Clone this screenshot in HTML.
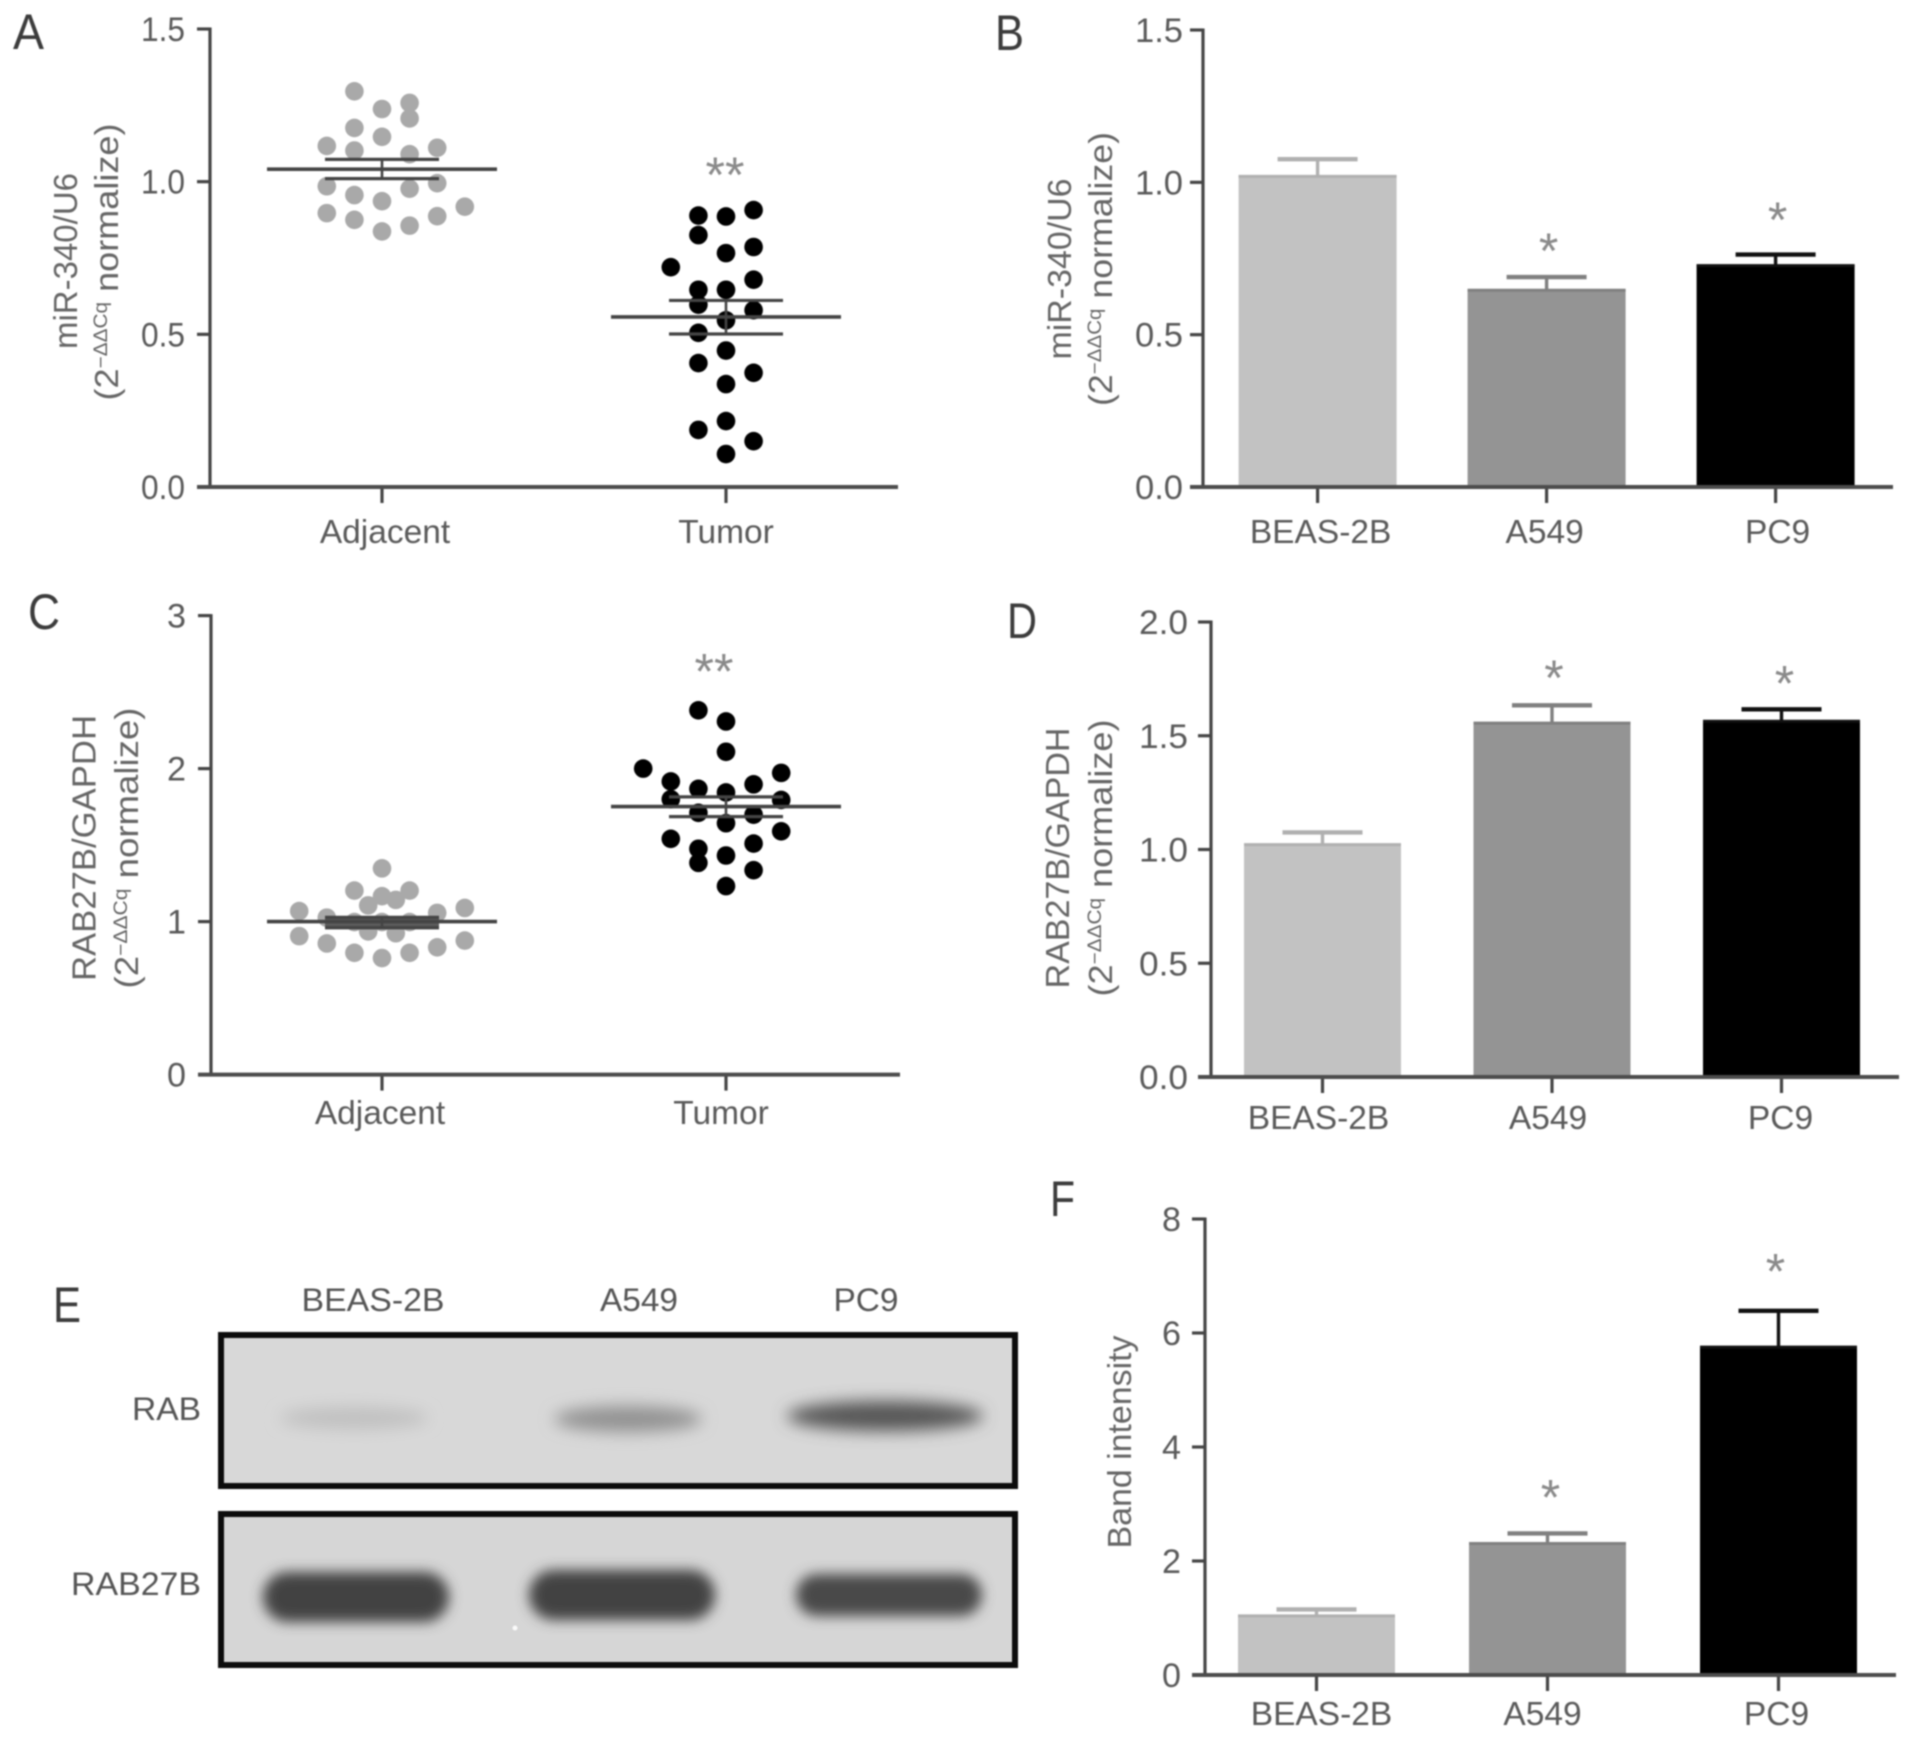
<!DOCTYPE html>
<html lang="en">
<head>
<meta charset="utf-8">
<title>miR-340 and RAB27B expression figure</title>
<style>
  html, body { margin: 0; padding: 0; background: #fff; }
  #figure { display: block; width: 1913px; height: 1739px; filter: blur(0.85px); font-family: "Liberation Sans", sans-serif; }
  .title { font-size: 33px; fill: #666; }
  .title2 { font-size: 33px; fill: #666; }
  .letter { font-size: 50px; fill: #3c3c3c; }
  .blot-text { font-size: 32px; fill: #555; }
</style>
</head>
<body>
<svg id="figure" xmlns="http://www.w3.org/2000/svg" width="1913" height="1739" viewBox="0 0 1913 1739">
  <defs>
    <filter id="blur-soft" x="-30%" y="-80%" width="160%" height="260%"><feGaussianBlur stdDeviation="8"></feGaussianBlur></filter>
    <filter id="blur-firm" x="-20%" y="-50%" width="140%" height="200%"><feGaussianBlur stdDeviation="6.5"></feGaussianBlur></filter>
  </defs>
  <rect x="0" y="0" width="1913" height="1739" fill="#fff"></rect>

  <text class="letter" x="13" y="49" textLength="31" lengthAdjust="spacingAndGlyphs">A</text>
  <text class="letter" x="995" y="50" textLength="29" lengthAdjust="spacingAndGlyphs">B</text>
  <text class="letter" x="28" y="629" textLength="32" lengthAdjust="spacingAndGlyphs">C</text>
  <text class="letter" x="1007" y="638" textLength="30" lengthAdjust="spacingAndGlyphs">D</text>
  <text class="letter" x="53" y="1322" textLength="28" lengthAdjust="spacingAndGlyphs">E</text>
  <text class="letter" x="1050" y="1216" textLength="25" lengthAdjust="spacingAndGlyphs">F</text>

  <text class="title" transform="translate(77,261) rotate(-90)" text-anchor="middle" textLength="176" lengthAdjust="spacingAndGlyphs">miR-340/U6</text>
  <text class="title2" transform="translate(118,262) rotate(-90)" text-anchor="middle" textLength="277" lengthAdjust="spacingAndGlyphs">(2<tspan font-size="19" dy="-11">−ΔΔCq</tspan><tspan dy="11"> normalize)</tspan></text>

  <text class="title" transform="translate(1071,269) rotate(-90)" text-anchor="middle" textLength="181" lengthAdjust="spacingAndGlyphs">miR-340/U6</text>
  <text class="title2" transform="translate(1112,269) rotate(-90)" text-anchor="middle" textLength="274" lengthAdjust="spacingAndGlyphs">(2<tspan font-size="19" dy="-11">−ΔΔCq</tspan><tspan dy="11"> normalize)</tspan></text>

  <text class="title" transform="translate(95.5,848) rotate(-90)" text-anchor="middle" textLength="266" lengthAdjust="spacingAndGlyphs">RAB27B/GAPDH</text>
  <text class="title2" transform="translate(138,848) rotate(-90)" text-anchor="middle" textLength="281" lengthAdjust="spacingAndGlyphs">(2<tspan font-size="19" dy="-11">−ΔΔCq</tspan><tspan dy="11"> normalize)</tspan></text>

  <text class="title" transform="translate(1069,858) rotate(-90)" text-anchor="middle" textLength="261" lengthAdjust="spacingAndGlyphs">RAB27B/GAPDH</text>
  <text class="title2" transform="translate(1112,858) rotate(-90)" text-anchor="middle" textLength="277" lengthAdjust="spacingAndGlyphs">(2<tspan font-size="19" dy="-11">−ΔΔCq</tspan><tspan dy="11"> normalize)</tspan></text>

  <text class="title" transform="translate(1131,1442) rotate(-90)" text-anchor="middle" textLength="213" lengthAdjust="spacingAndGlyphs">Band intensity</text>

  <g>
    <text class="blot-text" x="373" y="1311" text-anchor="middle" textLength="143" lengthAdjust="spacingAndGlyphs">BEAS-2B</text>
    <text class="blot-text" x="639" y="1311" text-anchor="middle" textLength="78" lengthAdjust="spacingAndGlyphs">A549</text>
    <text class="blot-text" x="866" y="1311" text-anchor="middle" textLength="65" lengthAdjust="spacingAndGlyphs">PC9</text>
    <text class="blot-text" x="201" y="1420" text-anchor="end" textLength="69" lengthAdjust="spacingAndGlyphs">RAB</text>
    <text class="blot-text" x="201" y="1595" text-anchor="end" textLength="130" lengthAdjust="spacingAndGlyphs">RAB27B</text>

    <rect x="221" y="1335" width="794" height="151" fill="#d8d8d8" stroke="#0c0c0c" stroke-width="6"></rect>
    <ellipse cx="354" cy="1418" rx="74" ry="11" fill="#c0c0c0" filter="url(#blur-soft)"></ellipse>
    <ellipse cx="628" cy="1419" rx="74" ry="13" fill="#929292" filter="url(#blur-soft)"></ellipse>
    <ellipse cx="885" cy="1416" rx="98" ry="15" fill="#565656" filter="url(#blur-soft)"></ellipse>

    <rect x="221" y="1514" width="794" height="151" fill="#d6d6d6" stroke="#0c0c0c" stroke-width="6"></rect>
    <rect x="263" y="1572" width="186" height="50" rx="25" fill="#424242" filter="url(#blur-firm)"></rect>
    <rect x="529" y="1570" width="186" height="50" rx="25" fill="#424242" filter="url(#blur-firm)"></rect>
    <rect x="796" y="1574" width="186" height="42" rx="21" fill="#484848" filter="url(#blur-firm)"></rect>
    <circle cx="515" cy="1628" r="2.5" fill="#fafafa"></circle>
  </g>

  <g id="charts"></g>
</svg>

<script>
/* ---- Scatter categories ---- */
const scatterCategories = ['Adjacent', 'Tumor'];
const barCategories = ['BEAS-2B', 'A549', 'PC9'];

/* ---- Panel A ---- */
const panelATicks = [0, 0.5, 1, 1.5];
const panelATickLabels = ['0.0', '0.5', '1.0', '1.5'];
const panelAAdjacentValues = [1.296, 1.238, 1.258, 1.207, 1.176, 1.147, 1.117, 1.102, 1.09, 1.111, 0.985, 0.956, 0.936, 0.977, 0.995, 0.918, 0.897, 0.875, 0.837, 0.856, 0.887];
const panelAAdjacentColumns = [-1, 0, 1, 1, -1, 0, -2, -1, 1, 2, -2, -1, 0, 1, 2, 3, -2, -1, 0, 1, 2];
const panelATumorValues = [0.889, 0.886, 0.907, 0.825, 0.786, 0.766, 0.72, 0.679, 0.646, 0.646, 0.597, 0.579, 0.546, 0.505, 0.447, 0.406, 0.374, 0.337, 0.216, 0.187, 0.15, 0.108];
const panelATumorColumns = [-1, 0, 1, -1, 1, 0, -2, 1, -1, 0, -1, 1, 0, -1, 0, -1, 1, 0, 0, -1, 1, 0];
const panelAMeans = [1.041, 0.557];
const panelASemHigh = [1.073, 0.611];
const panelASemLow = [1.01, 0.501];
const panelASignificance = [null, 1.035];

/* ---- Panel C ---- */
const panelCTicks = [0, 1, 2, 3];
const panelCTickLabels = ['0', '1', '2', '3'];
const panelCAdjacentValues = [1.348, 1.203, 1.203, 1.166, 1.142, 1.106, 1.069, 1.089, 1.026, 1.057, 0.905, 0.876, 0.857, 0.832, 0.796, 0.796, 0.762, 0.936, 0.924, 0.997, 0.997, 0.997];
const panelCAdjacentColumns = [0, -1, 1, 0, 0.5, -0.5, -3, 3, -2, 2, -3, 3, -2, 2, -1, 1, 0, -0.5, 0.5, 0, -1, 1];
const panelCTumorValues = [2.381, 2.308, 2.11, 2.0, 1.972, 1.916, 1.868, 1.897, 1.844, 1.8, 1.795, 1.711, 1.699, 1.643, 1.59, 1.541, 1.51, 1.476, 1.432, 1.384, 1.336, 1.232];
const panelCTumorColumns = [-1, 0, 0, -3, 2, -2, -1, 1, 0, -2, 2, -1, 1, 0, 2, -2, 1, -1, 0, -1, 1, 0];
const panelCMeans = [1.0, 1.752];
const panelCSemHigh = [1.028, 1.815];
const panelCSemLow = [0.96, 1.686];
const panelCSignificance = [null, 2.66];

/* ---- Panel B ---- */
const panelBTicks = [0, 0.5, 1, 1.5];
const panelBTickLabels = ['0.0', '0.5', '1.0', '1.5'];
const panelBValues = [1.023, 0.649, 0.73];
const panelBErrors = [1.076, 0.689, 0.763];
const panelBSignificance = [null, 0.787, 0.89];

/* ---- Panel D ---- */
const panelDTicks = [0, 0.5, 1, 1.5, 2];
const panelDTickLabels = ['0.0', '0.5', '1.0', '1.5', '2.0'];
const panelDValues = [1.026, 1.56, 1.568];
const panelDErrors = [1.075, 1.634, 1.616];
const panelDSignificance = [null, 1.772, 1.748];

/* ---- Panel F ---- */
const panelFTicks = [0, 2, 4, 6, 8];
const panelFTickLabels = ['0', '2', '4', '6', '8'];
const panelFValues = [1.055, 2.325, 5.77];
const panelFErrors = [1.15, 2.484, 6.39];
const panelFSignificance = [null, 3.18, 7.15];

const SVG_NS = 'http://www.w3.org/2000/svg';
const root = document.getElementById('charts');

function make(tag, attrs, parent, content) {
  const node = document.createElementNS(SVG_NS, tag);
  Object.keys(attrs).forEach(function (k) { node.setAttribute(k, attrs[k]); });
  if (content !== undefined) node.textContent = content;
  parent.appendChild(node);
  return node;
}

function linearY(geom) {
  return function (v) {
    return geom.y0 - (v / geom.max) * (geom.y0 - geom.yTop);
  };
}

function catX(geom, i) {
  return geom.x0 + i * geom.step;
}

function drawAxes(geom, ticks, tickLabels, categories, parent) {
  const y = linearY(geom);
  const yAxis = make('line', { x1: geom.axisX, x2: geom.axisX, y1: geom.yTop - 1.5, y2: geom.y0, stroke: '#454545', 'stroke-width': 3.2 }, parent);
  
  

  ticks.forEach(function (t, i) {
    const tick = make('line', { x1: geom.axisX - 13, x2: geom.axisX, y1: y(t), y2: y(t), stroke: '#454545', 'stroke-width': 3.2 }, parent);
    
    
    const label = make('text', {
      x: geom.axisX - geom.labelGap, y: y(t) + 12, 'text-anchor': 'end', 'font-size': 34, fill: '#5a5a5a',
      textLength: tickLabels[i].length > 1 ? geom.tickLabelWidth : 19, lengthAdjust: 'spacingAndGlyphs'
    }, parent, tickLabels[i]);
    
    
  });

  categories.forEach(function (c, i) {
    const tick = make('line', { x1: catX(geom, i), x2: catX(geom, i), y1: geom.y0, y2: geom.y0 + 16, stroke: '#454545', 'stroke-width': 3.2 }, parent);
    
    
    const label = make('text', {
      x: catX(geom, i) + geom.labelNudge[i], y: geom.labelY, 'text-anchor': 'middle', 'font-size': 33.5, fill: '#5a5a5a'
    }, parent, c);
    
    
  });
}

function drawXAxisLine(geom, parent) {
  const xAxis = make('line', { x1: geom.axisX - 13, x2: geom.xEnd, y1: geom.y0, y2: geom.y0, stroke: '#4c4c4c', 'stroke-width': 4 }, parent);
  
  
}

function drawStars(geom, values, text, parent) {
  const y = linearY(geom);
  values.forEach(function (v, i) {
    if (v === null) return;
    const star = make('text', {
      x: catX(geom, i) + geom.starNudge[i], y: y(v) + 21, 'text-anchor': 'middle', 'font-size': 50, fill: '#8a8a8a'
    }, parent, text);
    
    
  });
}

function drawScatterGroup(geom, catIndex, values, columns, color, parent) {
  const y = linearY(geom);
  values.forEach(function (v, i) {
    const dot = make('circle', { cx: catX(geom, catIndex) + columns[i] * geom.columnStep, cy: y(v), r: 9.3, fill: color }, parent);
    
    
  });
}

function drawMeanSem(geom, means, high, low, parent) {
  const y = linearY(geom);
  means.forEach(function (m, i) {
    const cx = catX(geom, i);
    if (y(low[i]) - y(high[i]) < 16) {
      const band = make('rect', { x: cx - 57, y: y(high[i]), width: 114, height: y(low[i]) - y(high[i]), fill: '#5c5c5c' }, parent);
      
      
    }
    const meanLine = make('line', { x1: cx - 115, x2: cx + 115, y1: y(m), y2: y(m), stroke: '#444', 'stroke-width': 3.6 }, parent);
    
    
    const stem = make('line', { x1: cx, x2: cx, y1: y(high[i]), y2: y(low[i]), stroke: '#444', 'stroke-width': 2.6 }, parent);
    
    
    const capHigh = make('line', { x1: cx - 57, x2: cx + 57, y1: y(high[i]), y2: y(high[i]), stroke: '#444', 'stroke-width': 3.2 }, parent);
    
    
    const capLow = make('line', { x1: cx - 57, x2: cx + 57, y1: y(low[i]), y2: y(low[i]), stroke: '#444', 'stroke-width': 3.2 }, parent);
    
    
  });
}

const barFills = ['#c2c2c2', '#949494', '#000000'];
const barEdges = ['#b0b0b0', '#808080', '#111111'];

function drawBars(geom, values, errors, parent) {
  const y = linearY(geom);
  values.forEach(function (v, i) {
    const cx = catX(geom, i);
    const stem = make('line', { x1: cx, x2: cx, y1: y(errors[i]), y2: y(v) + 4, stroke: barEdges[i], 'stroke-width': 3.4 }, parent);
    
    
    const cap = make('line', { x1: cx - 40, x2: cx + 40, y1: y(errors[i]), y2: y(errors[i]), stroke: barEdges[i], 'stroke-width': 4.4 }, parent);
    
    
    const bar = make('rect', { x: cx - geom.barWidth / 2, y: y(v), width: geom.barWidth, height: geom.y0 - y(v), fill: barFills[i] }, parent);
    
    
    const top = make('line', { x1: cx - geom.barWidth / 2, x2: cx + geom.barWidth / 2, y1: y(v) + 1, y2: y(v) + 1, stroke: barEdges[i], 'stroke-width': 3 }, parent);
    
    
  });
}

/* Panel A */
const geomA = { axisX: 210, xEnd: 898, y0: 487, yTop: 29, max: 1.5, x0: 382, step: 344, columnStep: 27.6, labelY: 543, labelNudge: [3, 0], starNudge: [0, -1], labelGap: 25, tickLabelWidth: 44 };
const gA = make('g', {}, root);


drawAxes(geomA, panelATicks, panelATickLabels, scatterCategories, gA);
drawXAxisLine(geomA, gA);
drawScatterGroup(geomA, 0, panelAAdjacentValues, panelAAdjacentColumns, '#a9a9a9', gA);
drawScatterGroup(geomA, 1, panelATumorValues, panelATumorColumns, '#000000', gA);
drawMeanSem(geomA, panelAMeans, panelASemHigh, panelASemLow, gA);
drawStars(geomA, panelASignificance, '**', gA);

/* Panel C */
const geomC = { axisX: 211, xEnd: 900, y0: 1074.6, yTop: 615.6, max: 3, x0: 382, step: 344, columnStep: 27.6, labelY: 1124, labelNudge: [-2, -5], starNudge: [0, -12], labelGap: 25, tickLabelWidth: 44 };
const gC = make('g', {}, root);


drawAxes(geomC, panelCTicks, panelCTickLabels, scatterCategories, gC);
drawXAxisLine(geomC, gC);
drawScatterGroup(geomC, 0, panelCAdjacentValues, panelCAdjacentColumns, '#a9a9a9', gC);
drawScatterGroup(geomC, 1, panelCTumorValues, panelCTumorColumns, '#000000', gC);
drawMeanSem(geomC, panelCMeans, panelCSemHigh, panelCSemLow, gC);
drawStars(geomC, panelCSignificance, '**', gC);

/* Panel B */
const geomB = { axisX: 1203, xEnd: 1893, y0: 487, yTop: 30, max: 1.5, x0: 1317.6, step: 229, barWidth: 158, labelY: 543, labelNudge: [3, -2, 2], starNudge: [0, 2, 2], labelGap: 20, tickLabelWidth: 48 };
const gB = make('g', {}, root);


drawBars(geomB, panelBValues, panelBErrors, gB);
drawAxes(geomB, panelBTicks, panelBTickLabels, barCategories, gB);
drawXAxisLine(geomB, gB);
drawStars(geomB, panelBSignificance, '*', gB);

/* Panel D */
const geomD = { axisX: 1211, xEnd: 1899, y0: 1077, yTop: 622, max: 2, x0: 1322.5, step: 229.5, barWidth: 157, labelY: 1129, labelNudge: [-4, -4, -1], starNudge: [0, 2, 3], labelGap: 23, tickLabelWidth: 49 };
const gD = make('g', {}, root);


drawBars(geomD, panelDValues, panelDErrors, gD);
drawAxes(geomD, panelDTicks, panelDTickLabels, barCategories, gD);
drawXAxisLine(geomD, gD);
drawStars(geomD, panelDSignificance, '*', gD);

/* Panel F */
const geomF = { axisX: 1205, xEnd: 1896, y0: 1675, yTop: 1219, max: 8, x0: 1316.5, step: 231, barWidth: 157, labelY: 1725, labelNudge: [5, -5, -2], starNudge: [0, 3, -3], labelGap: 24, tickLabelWidth: 44 };
const gF = make('g', {}, root);


drawBars(geomF, panelFValues, panelFErrors, gF);
drawAxes(geomF, panelFTicks, panelFTickLabels, barCategories, gF);
drawXAxisLine(geomF, gF);
drawStars(geomF, panelFSignificance, '*', gF);
</script>
</body>
</html>
